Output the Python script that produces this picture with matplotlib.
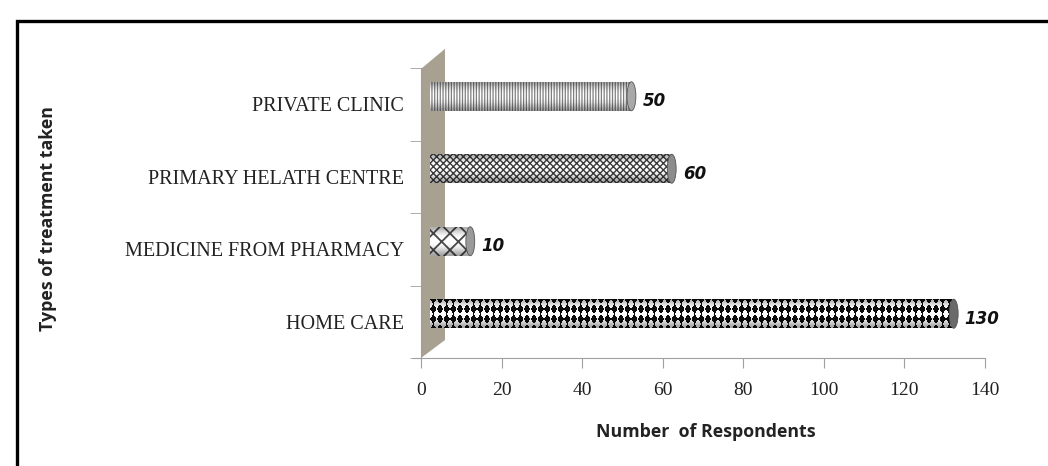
import numpy as np
import matplotlib.pyplot as plt
import matplotlib.transforms as mtransforms
from matplotlib.patches import Polygon, Rectangle, Ellipse

# treatment types, bottom to top
categories = ['HOME CARE', 'MEDICINE FROM PHARMACY', 'PRIMARY HELATH CENTRE', 'PRIVATE CLINIC']
respondents = [130, 10, 60, 50]

hatches = [None, 'xx', 'xxxxx', '||||||']
hatch_colors = ['#111111', '#4a4a4a', '#3c3c3c', '#808080']
hatch_widths = [1.0, 1.3, 1.0, 0.9]
cap_colors = ['#6a6a6a', '#9a9a9a', '#8c8c8c', '#a8a8a8']

fig = plt.figure(figsize=(10.48, 4.66), dpi=100)
ax = fig.add_axes([421 / 1048, 108 / 466, 564 / 1048, 290 / 466])

# black frame around the chart
fig.add_artist(Rectangle((16.5 / 1048, -0.2), 1.2, 0.2 + 445 / 466, transform=fig.transFigure,
                         fill=False, edgecolor='black', linewidth=2.4))

ax.set_xlim(0, 140)
ax.set_ylim(-0.5, 3.5)

# 3-D back wall on the left
wall = Polygon([(0, 0), (0, 0.997), (24 / 564, 1.066), (24 / 564, 0.062)], closed=True,
               transform=ax.transAxes, facecolor='#a8a191', edgecolor='none', clip_on=False, zorder=1)
ax.add_patch(wall)

# bars sit half way into the depth
shift = ax.transData + mtransforms.ScaledTranslation(9 / 100, 8 / 100, fig.dpi_scale_trans)

h = 0.4
px_per_unit = 564 / 140
bar_px = 29

# dark edges give the bars a rounded look
shade = np.zeros((9, 1, 4))
shade[:, 0, 3] = np.array([0.6, 0.3, 0.1, 0.0, 0.0, 0.05, 0.2, 0.45, 0.7]) * 0.5


def diamond_texture(width_px, height_px, cw=6.7, ch=10.0):
    # black diamonds touching at their corners, one per cell
    xx, yy = np.meshgrid(np.arange(width_px) + 0.5, np.arange(height_px) + 0.5)
    fx = np.abs((xx / cw) % 1 - 0.5) * 2
    fy = np.abs((yy / ch + 0.5) % 1 - 0.5) * 2
    return np.where(fx + fy < 1.0, 0.05, 1.0)


for i, (v, ht, hc, hw, cc) in enumerate(zip(respondents, hatches, hatch_colors,
                                             hatch_widths, cap_colors)):
    with plt.rc_context({'hatch.linewidth': hw}):
        body = Rectangle((0, i - h / 2), v, h, facecolor='white', edgecolor=hc, hatch=ht,
                         linewidth=0, transform=shift, zorder=3)
        ax.add_patch(body)
    if ht is None:
        tex = diamond_texture(int(round(v * px_per_unit)), bar_px)
        t = ax.imshow(tex, cmap='gray', vmin=0, vmax=1, aspect='auto',
                      extent=(0, v, i - h / 2, i + h / 2), transform=shift, zorder=3.5,
                      interpolation='bilinear')
        t.set_clip_path(body)
    im = ax.imshow(shade, aspect='auto', extent=(0, v, i - h / 2, i + h / 2),
                   transform=shift, zorder=4, interpolation='bilinear')
    im.set_clip_path(body)
    cap = Ellipse((v, i), 2.2, h, facecolor=cc, edgecolor='#555555', linewidth=0.6,
                  transform=shift, zorder=5)
    ax.add_patch(cap)
    ax.annotate(str(v), xy=(v, i), xytext=(20, 3), textcoords='offset pixels',
                ha='left', va='center', fontsize=12, fontweight='bold', fontstyle='italic',
                family='DejaVu Sans', color='#111111', zorder=6)
ax.set_xlim(0, 140)
ax.set_ylim(-0.5, 3.5)

# axes styling
for s in ['top', 'right']:
    ax.spines[s].set_visible(False)
ax.spines['left'].set_color('#a0a0a0')
ax.spines['bottom'].set_color('#a0a0a0')
ax.spines['bottom'].set_bounds(-1.9, 140)
ax.spines['bottom'].set_zorder(0)

ax.set_xticks(np.arange(0, 141, 20))
ax.tick_params(axis='x', direction='out', length=7, color='#a0a0a0', pad=10, labelsize=14)
ax.set_yticks(range(len(categories)))
ax.set_yticklabels(categories)
ax.set_yticks(np.arange(-0.5, 3.6, 1), minor=True)
ax.tick_params(axis='y', which='major', length=0, pad=12, labelsize=14.5)
ax.tick_params(axis='y', which='minor', direction='out', length=8, color='#a0a0a0')
for lab in ax.get_xticklabels() + ax.get_yticklabels():
    lab.set_family('Liberation Serif')
    lab.set_color('#222222')

fig.text(706 / 1048, 1 - 432 / 466, 'Number  of Respondents', ha='center', va='center',
         fontsize=12.8, fontweight='bold', family='Open Sans', color='#222222')
fig.text(48 / 1048, 1 - 219 / 466, 'Types of treatment taken', ha='center', va='center',
         rotation=90, fontsize=12.8, fontweight='bold', family='Open Sans', color='#222222')

fig.savefig('out.png', dpi=100)
